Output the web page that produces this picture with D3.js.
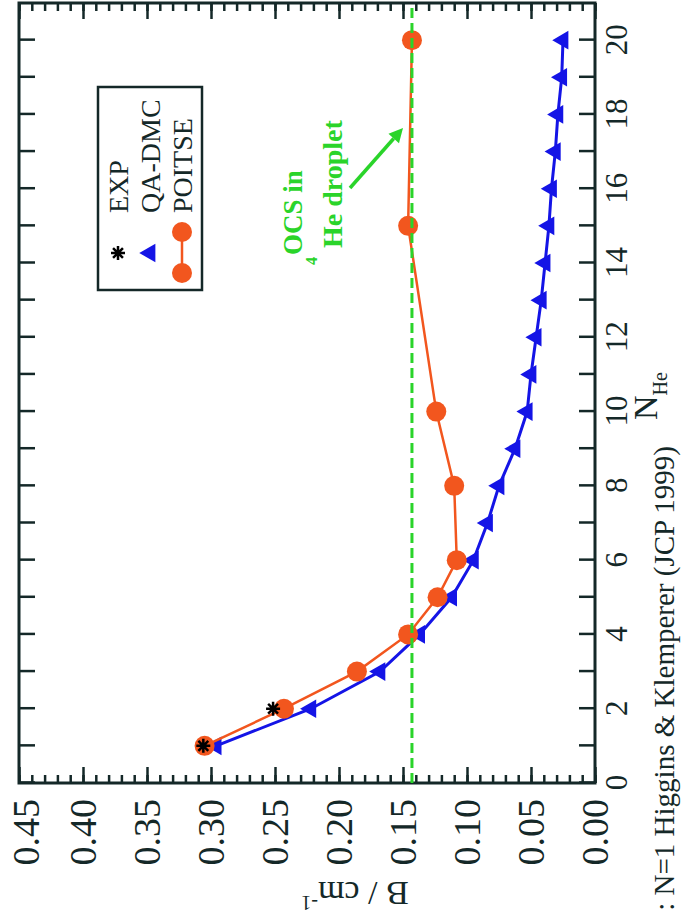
<!DOCTYPE html>
<html lang="en">
<head>
<meta charset="UTF-8">
<title>OCS in He clusters: B vs N</title>
<script src="https://d3js.org/d3.v7.min.js"></script>
<style>
  body, html { margin: 0; padding: 0; background: #fff; overflow: hidden; }
  svg { display: block; font-family: "Liberation Serif", "DejaVu Serif", serif; }
</style>
</head>
<body>
<script>
const qaN = d3.range(1, 21);
const qaB = [0.296, 0.222, 0.168, 0.137, 0.112, 0.095, 0.084, 0.075, 0.0625, 0.053,
             0.050, 0.046, 0.042, 0.039, 0.036, 0.034, 0.031, 0.029, 0.026, 0.025];
const poitseN = [1, 2, 3, 4, 5, 6, 8, 10, 15, 20];
const poitseB = [0.305, 0.243, 0.186, 0.146, 0.123, 0.108, 0.110, 0.124, 0.146, 0.143];
const expN = [1, 2];
const expB = [0.306, 0.2515];
const dropletB = 0.143;

const nTicks = d3.range(0, 21);
const bMinor = d3.range(0, 46).map(i => i / 100);
const bMajor = d3.range(0, 10).map(i => i * 0.05);
const legendNames = ["EXP", "QA-DMC", "POITSE"];

const ink = "#142828";
const orange = "#f2561e";
const blue = "#1414e6";
const green = "#2ad42a";

// page is portrait, the plot is drawn landscape and turned 90deg ccw
const pageW = 683, pageH = 922;

const svg = d3.select("body").append("svg")
  .attr("width", pageW)
  .attr("height", pageH);

const g = svg.append("g")
  .attr("transform", `translate(0,${pageH}) rotate(-90)`);

const x = d3.scaleLinear().domain([0, 21]).range([139, 919]);
const y = d3.scaleLinear().domain([0, 0.45]).range([595, 19]);

// axes (ticks point inward)
function styleAxis(sel, size) {
  sel.select(".domain").remove();
  sel.selectAll(".tick line").attr("stroke", ink).attr("stroke-width", 2.5);
  sel.attr("font-family", null).attr("font-size", size);
  sel.selectAll("text").attr("fill", ink);
}

g.append("g").attr("transform", `translate(0,${y(0)})`)
  .call(d3.axisBottom(x).tickValues(nTicks).tickSize(-16).tickPadding(10)
    .tickFormat(d => d % 2 === 0 ? d : ""))
  .call(s => styleAxis(s, 31));

g.append("g").attr("transform", `translate(0,${y(0.45)})`)
  .call(d3.axisTop(x).tickValues(nTicks).tickSize(-16).tickFormat(""))
  .call(s => styleAxis(s, 10));

g.append("g").attr("transform", `translate(${x(0)},0)`)
  .call(d3.axisLeft(y).tickValues(bMinor).tickSize(-8).tickFormat(""))
  .call(s => styleAxis(s, 10));

g.append("g").attr("transform", `translate(${x(0)},0)`)
  .call(d3.axisLeft(y).tickValues(bMajor).tickSize(-16).tickPadding(16)
    .tickFormat(d3.format(".2f")))
  .call(s => styleAxis(s, 38))
  .call(s => s.selectAll(".tick text").filter(d => d > 0.44).attr("dy", "0.52em"));

g.append("g").attr("transform", `translate(${x(21)},0)`)
  .call(d3.axisRight(y).tickValues(bMinor).tickSize(-8).tickFormat(""))
  .call(s => styleAxis(s, 10));

g.append("g").attr("transform", `translate(${x(21)},0)`)
  .call(d3.axisRight(y).tickValues(bMajor).tickSize(-16).tickFormat(""))
  .call(s => styleAxis(s, 10));

g.append("rect")
  .attr("x", x(0)).attr("y", y(0.45))
  .attr("width", x(21) - x(0)).attr("height", y(0) - y(0.45))
  .attr("fill", "none").attr("stroke", ink).attr("stroke-width", 3);

// axis titles
const xt = g.append("text")
  .attr("x", 502).attr("y", 657)
  .attr("font-size", 34).attr("fill", ink);
xt.append("tspan").text("N");
xt.append("tspan").attr("font-size", 20).attr("dy", 10).text("He");

const yt = g.append("text")
  .attr("transform", "translate(40,355) rotate(-90)")
  .attr("text-anchor", "middle")
  .attr("font-size", 34).attr("fill", ink);
yt.append("tspan").text("B / cm");
yt.append("tspan").attr("font-size", 20).attr("dy", -14).text("-1");

g.append("text")
  .attr("x", 476).attr("y", 674)
  .attr("text-anchor", "end")
  .attr("font-size", 29).attr("fill", ink)
  .text(": N=1 Higgins & Klemperer (JCP 1999)");

const line = d3.line().x(d => x(d[0])).y(d => y(d[1]));

// QA-DMC
const qa = qaN.map((n, i) => [n, qaB[i]]);
g.append("path").attr("d", line(qa))
  .attr("fill", "none").attr("stroke", blue).attr("stroke-width", 3);
const tri = d3.symbol(d3.symbolTriangle, 150);
g.selectAll(".qa").data(qa).join("path")
  .attr("class", "qa")
  .attr("transform", d => `translate(${x(d[0])},${y(d[1])})`)
  .attr("d", tri)
  .attr("fill", blue);

// POITSE
const po = poitseN.map((n, i) => [n, poitseB[i]]);
g.append("path").attr("d", line(po))
  .attr("fill", "none").attr("stroke", orange).attr("stroke-width", 2.5);
g.selectAll(".po").data(po).join("circle")
  .attr("class", "po")
  .attr("cx", d => x(d[0])).attr("cy", d => y(d[1]))
  .attr("r", 10)
  .attr("fill", orange);

// droplet limit
g.append("line")
  .attr("x1", x(0)).attr("x2", x(21))
  .attr("y1", y(dropletB)).attr("y2", y(dropletB))
  .attr("stroke", green).attr("stroke-width", 3)
  .attr("stroke-dasharray", "10,5");

// EXP asterisks
function star(r) {
  let p = "";
  for (let k = 0; k < 4; k++) {
    const a = k * Math.PI / 4;
    const dx = r * Math.cos(a), dy = r * Math.sin(a);
    p += `M${-dx},${-dy}L${dx},${dy}`;
  }
  return p;
}
const ex = expN.map((n, i) => [n, expB[i]]);
g.selectAll(".exp").data(ex).join("path")
  .attr("class", "exp")
  .attr("transform", d => `translate(${x(d[0])},${y(d[1])})`)
  .attr("d", star(7))
  .attr("stroke", "#000").attr("stroke-width", 2.5);

// annotation
const ann = g.append("g").attr("fill", green).attr("font-weight", "bold");
ann.append("text").attr("x", 667).attr("y", 302).attr("font-size", 27).text("OCS in");
ann.append("text").attr("x", 657).attr("y", 317).attr("font-size", 16).text("4");
ann.append("text").attr("x", 674).attr("y", 342).attr("font-size", 28).text("He droplet");

const a0 = [734, 350], a1 = [794, 403];
const ang = Math.atan2(a1[1] - a0[1], a1[0] - a0[0]);
const hl = 14, hw = 7;
const base = [a1[0] - hl * Math.cos(ang), a1[1] - hl * Math.sin(ang)];
g.append("line")
  .attr("x1", a0[0]).attr("y1", a0[1]).attr("x2", base[0]).attr("y2", base[1])
  .attr("stroke", green).attr("stroke-width", 3.5);
g.append("polygon")
  .attr("points", [a1,
    [base[0] + hw * Math.sin(ang), base[1] - hw * Math.cos(ang)],
    [base[0] - hw * Math.sin(ang), base[1] + hw * Math.cos(ang)]].map(p => p.join(",")).join(" "))
  .attr("fill", green);

// legend
const lg = g.append("g");
lg.append("rect")
  .attr("x", 632).attr("y", 98).attr("width", 203).attr("height", 104)
  .attr("fill", "#fff").attr("stroke", ink).attr("stroke-width", 2.5);
const rowY = d3.scalePoint().domain(legendNames).range([118, 182]);
lg.selectAll(".lt").data(legendNames).join("text")
  .attr("class", "lt")
  .attr("x", 709).attr("y", d => rowY(d) + 10)
  .attr("font-size", 28).attr("fill", ink)
  .text(d => d);
lg.append("path")
  .attr("transform", `translate(669,${rowY("EXP")})`)
  .attr("d", star(7)).attr("stroke", "#000").attr("stroke-width", 2.5);
lg.append("path")
  .attr("transform", `translate(669,${rowY("QA-DMC")})`)
  .attr("d", tri).attr("fill", blue);
lg.append("line")
  .attr("x1", 649).attr("x2", 690)
  .attr("y1", rowY("POITSE")).attr("y2", rowY("POITSE"))
  .attr("stroke", orange).attr("stroke-width", 2.5);
lg.selectAll(".lc").data([649, 690]).join("circle")
  .attr("class", "lc")
  .attr("cx", d => d).attr("cy", rowY("POITSE")).attr("r", 10)
  .attr("fill", orange);
</script>
</body>
</html>
